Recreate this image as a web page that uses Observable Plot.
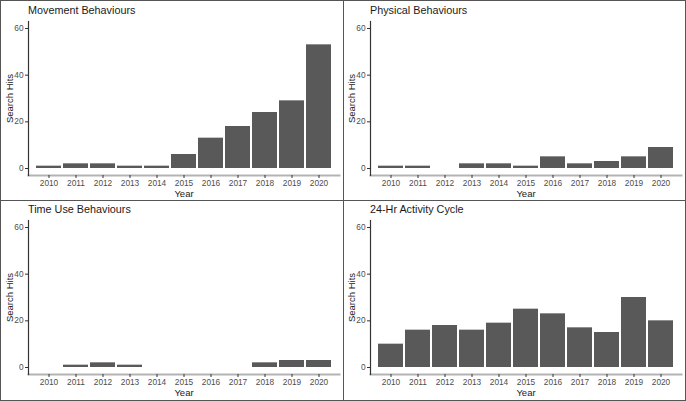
<!DOCTYPE html>
<html>
<head>
<meta charset="utf-8">
<script src="https://cdn.jsdelivr.net/npm/d3@7"></script>
<script src="https://cdn.jsdelivr.net/npm/@observablehq/plot@0.6"></script>
<style>
  html, body { margin: 0; padding: 0; background: #fff; }
  #fig { position: relative; width: 686px; height: 401px; box-sizing: border-box; border: 1px solid #555; background: #fff; font-family: "Liberation Sans", Arial, sans-serif; }
  .vline { position: absolute; left: 342px; top: 0; width: 1px; height: 399px; background: #555; }
  .hline { position: absolute; left: 0; top: 199px; width: 684px; height: 1px; background: #555; }
  .panel { position: absolute; width: 342px; height: 199px; }
  .panel .ttl { position: absolute; left: 27px; top: 3px; font-size: 10.8px; color: #1a1a1a; white-space: nowrap; }
  .panel svg { position: absolute; left: 0; top: 0; }
</style>
</head>
<body>
<div id="fig"><div class="vline"></div><div class="hline"></div></div>
<script>
const years = ["2010","2011","2012","2013","2014","2015","2016","2017","2018","2019","2020"];
const titles = ["Movement Behaviours", "Physical Behaviours", "Time Use Behaviours", "24-Hr Activity Cycle"];
const movement = [1, 2, 2, 1, 1, 6, 13, 18, 24, 29, 53];
const physical = [1, 1, 0, 2, 2, 1, 5, 2, 3, 5, 9];
const timeUse  = [0, 1, 2, 1, 0, 0, 0, 0, 2, 3, 3];
const cycle24  = [10, 16, 18, 16, 19, 25, 23, 17, 15, 30, 20];
const yTicks = [0, 20, 40, 60];
const xLabel = "Year";
const yLabel = "Search Hits";

const series = [movement, physical, timeUse, cycle24];
const origins = [[0, 0], [342, 0], [0, 199], [342, 199]];
const fig = document.getElementById("fig");

series.forEach((vals, i) => {
  const data = years.map((y, j) => ({year: y, hits: vals[j]}));
  const panel = document.createElement("div");
  panel.className = "panel";
  panel.style.left = origins[i][0] + "px";
  panel.style.top = origins[i][1] + "px";
  const t = document.createElement("div");
  t.className = "ttl";
  t.textContent = titles[i];
  panel.appendChild(t);

  const chart = Plot.plot({
    width: 342,
    height: 199,
    marginLeft: 27,
    marginRight: 4,
    marginTop: 20,
    marginBottom: 25,
    style: { fontFamily: "Liberation Sans, Arial, sans-serif", background: "transparent", overflow: "visible" },
    x: { type: "band", domain: years, paddingInner: 0.07, paddingOuter: 0.1, axis: null },
    y: { domain: [-3, 63], axis: null },
    marks: [
      Plot.barY(data, { x: "year", y1: 0, y2: "hits", fill: "#595959" }),
      Plot.frame({ anchor: "bottom", stroke: "#b3b3b3", strokeWidth: 2 }),
      Plot.frame({ anchor: "left", stroke: "#333", strokeWidth: 1.2 }),
      Plot.axisX({ tickSize: 3, tickPadding: 2, fontSize: 8.3, color: "#4d4d4d", stroke: "#333",
        label: xLabel, labelAnchor: "center", labelOffset: 21 }),
      Plot.axisY({ ticks: yTicks, tickSize: 3, tickPadding: 2, fontSize: 8.3, color: "#4d4d4d", stroke: "#333",
        label: yLabel, labelAnchor: "center", labelOffset: 22 })
    ]
  });
  panel.appendChild(chart);
  fig.appendChild(panel);
});

// axis titles: larger, darker, and without Plot's direction arrow
fig.querySelectorAll("svg g[aria-label='x-axis label'] text, svg g[aria-label='y-axis label'] text").forEach(el => {
  el.setAttribute("font-size", "9.5");
  el.setAttribute("fill", "#1a1a1a");
  el.textContent = el.textContent.replace(/[\u2191\u2193\u2190\u2192]/g, "").trim();
});
</script>
</body>
</html>
